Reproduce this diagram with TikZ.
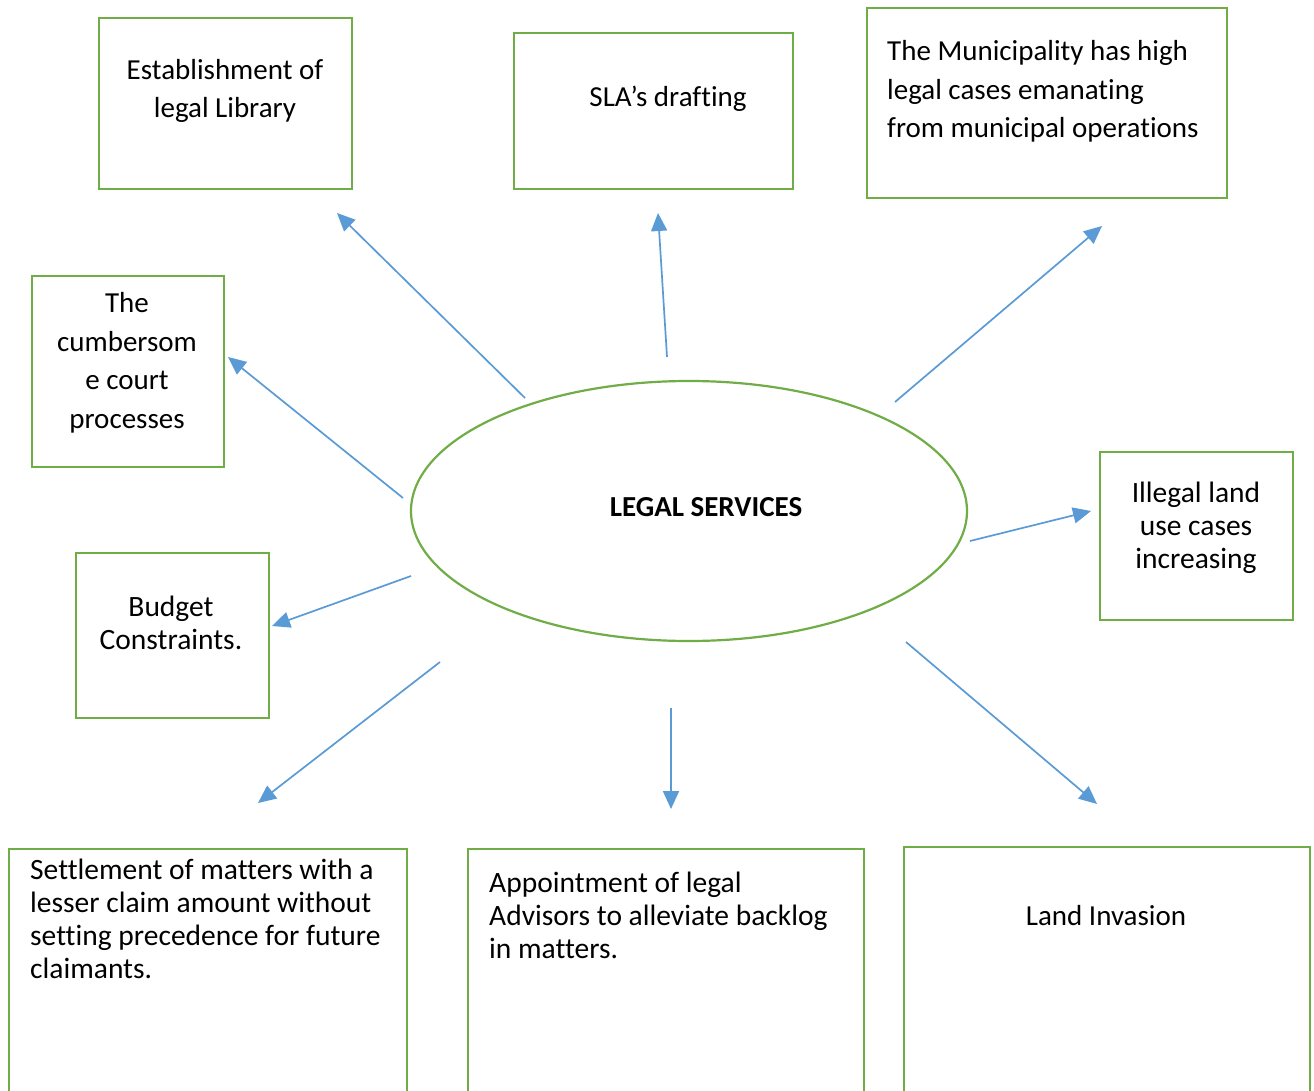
\documentclass[tikz,border=0pt]{standalone}
\usepackage{fontspec}
\setmainfont{Carlito}[Ligatures=NoCommon]
\usetikzlibrary{arrows.meta,shapes.geometric}
\definecolor{grn}{HTML}{70AD47}
\definecolor{blu}{HTML}{5B9BD5}
\begin{document}
\begin{tikzpicture}[x=1pt,y=-1pt,
  box/.style={draw=grn,line width=2.2pt,rectangle,anchor=north west,inner sep=0pt},
  txt/.style={inner sep=0pt,font=\fontsize{29}{38.5}\selectfont},
  txtb/.style={inner sep=0pt,font=\fontsize{29.5}{33}\selectfont},
  arr/.style={draw=blu,line width=1.7pt,-{Triangle[length=18pt,width=16pt]}}]
\useasboundingbox (0,0) rectangle (1314,1091);
\fill[white] (0,0) rectangle (1314,1091);
% boxes
\node[box,minimum width=253pt,minimum height=171pt] (lib) at (98,17) {};
\node[box,minimum width=192pt,minimum height=191pt] (court) at (31,275) {};
\node[box,minimum width=279pt,minimum height=156pt] (sla) at (513,32) {};
\node[box,minimum width=360pt,minimum height=190pt] (muni) at (866,7) {};
\node[box,minimum width=193pt,minimum height=168pt] (illegal) at (1099,451) {};
\node[box,minimum width=193pt,minimum height=165pt] (budget) at (75,552) {};
\node[box,minimum width=398pt,minimum height=300pt] (settle) at (8,848) {};
\node[box,minimum width=396pt,minimum height=300pt] (appoint) at (467,848) {};
\node[box,minimum width=406pt,minimum height=300pt] (land) at (903,846) {};
\node[ellipse,draw=grn,line width=2.2pt,minimum width=556pt,minimum height=260pt,inner sep=0pt] (ls) at (689,511) {};
% texts (anchor = baseline of last line)
\node[txt,align=center,anchor=base] (tlib) at (225,118) {Establishment of\\legal Library};
\node[txt,align=center,anchor=base] (tcourt) at (127,428) {The\\cumbersom\\e court\\processes};
\node[txt,anchor=base] (tsla) at (668,107) {SLA’s drafting};
\node[txt,align=left,anchor=base west] (tmuni) at (887,138) {The Municipality has high\\legal cases emanating\\from municipal operations};
\node[txtb,align=center,anchor=base] (till) at (1196,568) {Illegal land\\use cases\\increasing};
\node[txtb,align=center,anchor=base] (tbud) at (171,649) {Budget\\Constraints.};
\node[txtb,align=left,anchor=base west] (tset) at (30,978) {Settlement of matters with a\\lesser claim amount without\\setting precedence for future\\claimants.};
\node[txtb,align=left,anchor=base west] (tapp) at (489,958) {Appointment of legal\\Advisors to alleviate backlog\\in matters.};
\node[txt,anchor=base] (tland) at (1106,925) {Land Invasion};
\node[txt,anchor=base,font=\fontsize{29}{38}\selectfont\bfseries] (tls) at (706,516) {LEGAL SERVICES};
% arrow ends
\coordinate (s1) at (525,398); \coordinate (e1) at (337,213);
\coordinate (s2) at (667,357); \coordinate (e2) at (658,213);
\coordinate (s3) at (895,402); \coordinate (e3) at (1102,226);
\coordinate (s4) at (403,498); \coordinate (e4) at (228,357);
\coordinate (s5) at (411,576); \coordinate (e5) at (272,626);
\coordinate (s6) at (440,662); \coordinate (e6) at (258,803);
\coordinate (s7) at (671,708); \coordinate (e7) at (671,809);
\coordinate (s8) at (906,642); \coordinate (e8) at (1097,804);
\coordinate (s9) at (970,541); \coordinate (e9) at (1091,511);
\foreach \i in {1,...,9} {\draw[arr] (s\i) -- (e\i);}
\end{tikzpicture}
\end{document}
